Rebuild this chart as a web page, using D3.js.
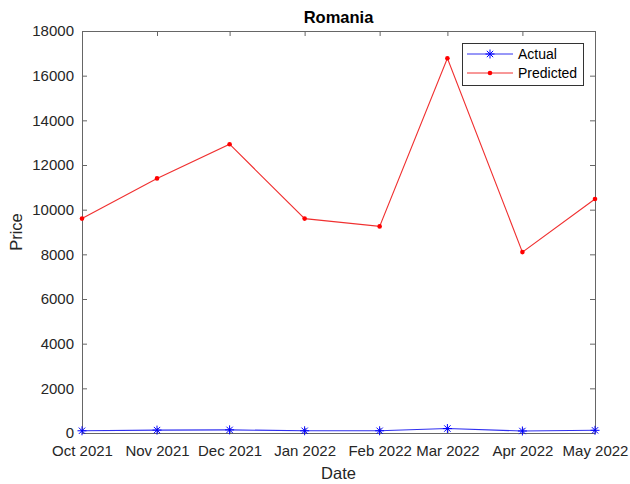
<!DOCTYPE html>
<html><head><meta charset="utf-8">
<script src="https://cdn.jsdelivr.net/npm/d3@7"></script>
<style>body{margin:0;background:#fff}svg{display:block;font-family:"Liberation Sans",Arial,sans-serif}</style>
</head><body>
<svg id="c" width="630" height="484"></svg>
<script>
const months = ["2021-10-01","2021-11-01","2021-12-01","2022-01-01","2022-02-01","2022-03-01","2022-04-01","2022-05-01"];
const actual = [100, 130, 140, 100, 100, 200, 90, 120];
const predicted = [9600, 11400, 12930, 9600, 9250, 16780, 8100, 10480];
const yTicks = [0,2000,4000,6000,8000,10000,12000,14000,16000,18000];
const title = "Romania", xLabel = "Date", yLabel = "Price";

const parse = d3.utcParse("%Y-%m-%d");
const dates = months.map(parse);
const svg = d3.select("#c");
const L=82, R=595, T=31, B=433;
const x = d3.scaleUtc().domain([dates[0], dates[dates.length-1]]).range([L,R]);
const y = d3.scaleLinear().domain([0,18000]).range([B,T]);
const txt = "#262626", ax = "#666";

const fmt = d3.utcFormat("%b %Y");
const gx = svg.append("g").attr("transform",`translate(0,${B})`)
  .call(d3.axisBottom(x).tickValues(dates).tickFormat(fmt).tickSizeInner(-5).tickSizeOuter(0).tickPadding(12));
const gy = svg.append("g").attr("transform",`translate(${L},0)`)
  .call(d3.axisLeft(y).tickValues(yTicks).tickFormat(d3.format("d")).tickSizeInner(-5).tickSizeOuter(0).tickPadding(8));
const gxt = svg.append("g").attr("transform",`translate(0,${T})`)
  .call(d3.axisTop(x).tickValues(dates).tickFormat("").tickSizeInner(-5).tickSizeOuter(0));
const gyr = svg.append("g").attr("transform",`translate(${R},0)`)
  .call(d3.axisRight(y).tickValues(yTicks).tickFormat("").tickSizeInner(-5).tickSizeOuter(0));
[gx,gy,gxt,gyr].forEach(g=>{
  g.selectAll(".domain").attr("stroke",ax);
  g.selectAll(".tick line").attr("stroke",ax);
  g.selectAll("text").attr("fill",txt).style("font-size","15px").attr("font-family","Liberation Sans, Arial, sans-serif");
});

const lineP = d3.line().x((d,i)=>x(dates[i])).y(d=>y(d));
svg.append("path").datum(predicted).attr("d",lineP).attr("fill","none").attr("stroke","#f03030").attr("stroke-width",1.1);
svg.selectAll(".pd").data(predicted).join("circle").attr("cx",(d,i)=>x(dates[i])).attr("cy",d=>y(d)).attr("r",2.3).attr("fill","#ff0000");
svg.append("path").datum(actual).attr("d",lineP).attr("fill","none").attr("stroke","#3030f0").attr("stroke-width",1.1);
const star = (cx,cy,r)=>{const a=r*0.7071;return `M${cx-r},${cy}L${cx+r},${cy}M${cx},${cy-r}L${cx},${cy+r}M${cx-a},${cy-a}L${cx+a},${cy+a}M${cx-a},${cy+a}L${cx+a},${cy-a}`;};
svg.selectAll(".ad").data(actual).join("path").attr("d",(d,i)=>star(x(dates[i]),y(d),4.5)).attr("stroke","#0000ff").attr("stroke-width",1).attr("fill","none");

const lg = svg.append("g");
lg.append("rect").attr("x",462.5).attr("y",43.5).attr("width",121).attr("height",42).attr("fill","#fff").attr("stroke","#333").attr("stroke-width",1);
lg.append("line").attr("x1",467).attr("x2",513).attr("y1",54).attr("y2",54).attr("stroke","#3030f0");
lg.append("path").attr("d",star(490,54,4.5)).attr("stroke","#0000ff").attr("fill","none");
lg.append("line").attr("x1",467).attr("x2",513).attr("y1",73).attr("y2",73).attr("stroke","#f03030");
lg.append("circle").attr("cx",490).attr("cy",73).attr("r",2.3).attr("fill","#ff0000");
lg.append("text").attr("x",518).attr("y",59).text("Actual").attr("fill","#000").style("font-size","14px");
lg.append("text").attr("x",518).attr("y",78).text("Predicted").attr("fill","#000").style("font-size","14px");

svg.append("text").attr("x",(L+R)/2).attr("y",23).attr("text-anchor","middle").style("font-size","16.5px").style("font-weight","bold").attr("fill","#000").text(title);
svg.append("text").attr("x",(L+R)/2).attr("y",479).attr("text-anchor","middle").style("font-size","16.5px").attr("fill",txt).text(xLabel);
svg.append("text").attr("transform",`translate(22,${(T+B)/2}) rotate(-90)`).attr("text-anchor","middle").style("font-size","16.5px").attr("fill",txt).text(yLabel);
</script>
</body></html>
